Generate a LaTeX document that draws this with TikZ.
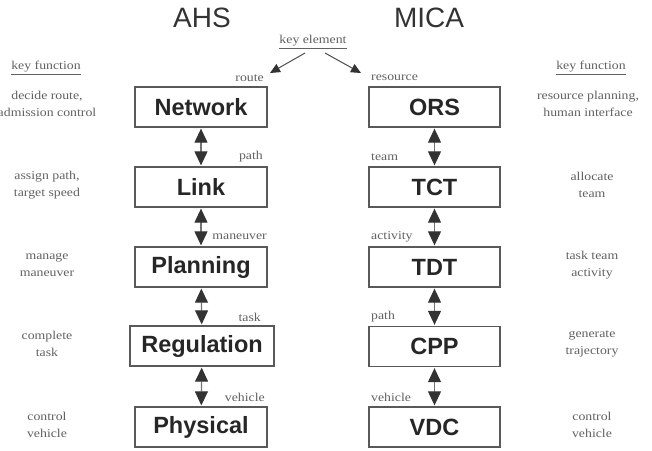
\documentclass[tikz,border=0pt]{standalone}
\usepackage{fontspec}
\setmainfont{Liberation Serif}
\newfontfamily\lblfont{Liberation Serif}[FakeStretch=1.15]
\newfontfamily\boxfont{Liberation Sans}
\usetikzlibrary{arrows.meta}
\begin{document}
\begin{tikzpicture}[x=1pt,y=-1pt,
  blk/.style={draw=black!65, line width=1.3pt, minimum width=132pt, minimum height=40pt, inner sep=0pt,
    font=\boxfont\bfseries\fontsize{23.5}{24}\selectfont, text=black!85},
  ttl/.style={font=\boxfont\fontsize{28}{30}\selectfont, text=black!80},
  lbl/.style={font=\lblfont\fontsize{12}{14}\selectfont, text=black!62, inner sep=1pt},
  fn/.style={font=\lblfont\fontsize{12}{17}\selectfont, text=black!62, align=center, inner sep=1pt},
  dbl/.style={draw=black!55, line width=1.1pt, shorten <=1pt, shorten >=1pt,
    {Triangle[length=14pt,width=13pt,color=black!80]}-{Triangle[length=14pt,width=13pt,color=black!80]}},
  kar/.style={draw=black!70, line width=1pt, -{Triangle[length=10pt,width=9pt,color=black!80]}}
]
\useasboundingbox (0,0) rectangle (652,450);

% titles
\node[ttl] (ahs) at (202,18) {AHS};
\node[ttl] (mica) at (429,18) {MICA};
\node[lbl] (ke) at (313,42) {\underline{key element}};
\node[lbl] (kfl) at (46,68) {\underline{key function}};
\node[lbl] (kfr) at (591,68) {\underline{key function}};

% key element arrows
\coordinate (kls) at (305,53);
\coordinate (kle) at (270,73);
\coordinate (krs) at (325,53);
\coordinate (kre) at (361,73);
\draw[kar] (kls) -- (kle);
\draw[kar] (krs) -- (kre);

% AHS boxes
\node[blk] (net) at (201,107) {Network};
\node[blk] (lnk) at (201,187) {Link};
\node[blk] (pln) at (201,267) {Planning};
\node[blk, minimum width=144pt] (reg) at (202,346) {Regulation};
\node[blk] (phy) at (201,427) {Physical};

% MICA boxes
\node[blk, minimum width=131pt] (ors) at (434.5,107) {ORS};
\node[blk, minimum width=131pt] (tct) at (434.5,187) {TCT};
\node[blk, minimum width=131pt] (tdt) at (434.5,267) {TDT};
\node[blk, minimum width=131pt] (cpp) at (434.5,346.5) {CPP};
\node[blk, minimum width=131pt] (vdc) at (434.5,427) {VDC};

% connectors
\draw[dbl] (net) -- (lnk);
\draw[dbl] (lnk) -- (pln);
\draw[dbl] (pln) -- (reg);
\draw[dbl] (reg) -- (phy);
\draw[dbl] (ors) -- (tct);
\draw[dbl] (tct) -- (tdt);
\draw[dbl] (tdt) -- (cpp);
\draw[dbl] (cpp) -- (vdc);

% left element labels
\node[lbl, anchor=east] (l1) at (265,78) {route};
\node[lbl, anchor=east] (l2) at (264,157) {path};
\node[lbl, anchor=east] (l3) at (268,237) {maneuver};
\node[lbl, anchor=east] (l4) at (262,317) {task};
\node[lbl, anchor=east] (l5) at (266,397) {vehicle};

% right element labels
\node[lbl, anchor=west] (r1) at (370,78) {resource};
\node[lbl, anchor=west] (r2) at (370,157) {team};
\node[lbl, anchor=west] (r3) at (370,237) {activity};
\node[lbl, anchor=west] (r4) at (370,317) {path};
\node[lbl, anchor=west] (r5) at (370,397) {vehicle};

% left key functions
\node[fn] (f1) at (47,104) {decide route,\\admission control};
\node[fn] (f2) at (47,185) {assign path,\\target speed};
\node[fn] (f3) at (47,265) {manage\\maneuver};
\node[fn] (f4) at (47,344) {complete\\task};
\node[fn] (f5) at (47,425) {control\\vehicle};

% right key functions
\node[fn] (g1) at (588,104) {resource planning,\\human interface};
\node[fn] (g2) at (592,185) {allocate\\team};
\node[fn] (g3) at (592,265) {task team\\activity};
\node[fn] (g4) at (592,344) {generate\\trajectory};
\node[fn] (g5) at (592,425) {control\\vehicle};
\end{tikzpicture}
\end{document}
